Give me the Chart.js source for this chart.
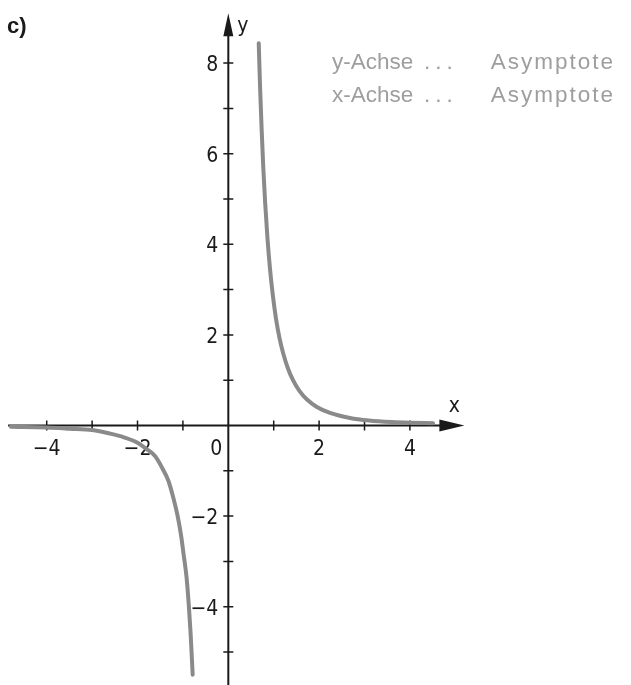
<!DOCTYPE html>
<html>
<head>
<meta charset="utf-8">
<script src="https://cdn.jsdelivr.net/npm/chart.js@4/dist/chart.umd.min.js"></script>
<style>
  html, body { margin: 0; padding: 0; background: #fff; }
  #wrap { width: 631px; height: 685px; }
</style>
</head>
<body>
<div id="wrap"><canvas id="plot" width="631" height="685"></canvas></div>
<script>
// branch for x > 0
const rightX = [0.67, 0.70, 0.735, 0.77, 0.81, 0.86, 0.918, 0.98, 1.05, 1.13, 1.21, 1.31, 1.425, 1.57, 1.727, 1.95, 2.24, 2.68, 3.1, 3.6, 4.0, 4.51];
const rightY = [8.44, 7.46, 6.52, 5.7, 4.94, 4.17, 3.46, 2.88, 2.36, 1.92, 1.59, 1.27, 1.0, 0.76, 0.58, 0.41, 0.28, 0.167, 0.11, 0.075, 0.06, 0.05];
// branch for x < 0
const leftX = [-4.79, -4.0, -3.5, -3.0, -2.6, -2.3, -2.0, -1.8, -1.61, -1.45, -1.32, -1.21, -1.12, -1.04, -0.98, -0.92, -0.87, -0.83, -0.785];
const leftY = [-0.03, -0.045, -0.07, -0.1, -0.18, -0.26, -0.38, -0.52, -0.68, -0.95, -1.22, -1.6, -1.98, -2.43, -2.88, -3.35, -3.97, -4.6, -5.5];

const xTickMarks = [-4, -3, -2, -1, 1, 2, 3, 4];
const xTickLabels = [-4, -2, 2, 4];
const yTickMarks = [-5, -4, -3, -2, -1, 1, 2, 3, 4, 5, 6, 7, 8];
const yTickLabels = [-4, -2, 2, 4, 6, 8];
const noteAxes = ['y-Achse', 'x-Achse'];

const toPts = (xs, ys) => xs.map((x, i) => ({ x: x, y: ys[i] }));
const fmt = v => (v < 0 ? '\u2212' + Math.abs(v) : String(v));
const numFont = '21px "DejaVu Sans Condensed", "Liberation Sans Narrow", "DejaVu Sans", sans-serif';

// cross-shaped axes through the origin with arrow heads
const axesPlugin = {
    id: 'axes',
    beforeDatasetsDraw(chart) {
        const ctx = chart.ctx, sx = chart.scales.x, sy = chart.scales.y;
        const x0 = sx.getPixelForValue(0), y0 = sy.getPixelForValue(0);
        const xl = sx.getPixelForValue(-4.85), xr = sx.getPixelForValue(5.2);
        const yt = sy.getPixelForValue(9.1), yb = sy.getPixelForValue(-5.75);
        ctx.save();
        ctx.strokeStyle = '#1a1a1a';
        ctx.fillStyle = '#1a1a1a';
        ctx.lineWidth = 2;
        ctx.beginPath();
        ctx.moveTo(xl, y0); ctx.lineTo(xr - 10, y0);
        ctx.moveTo(x0, yb); ctx.lineTo(x0, yt + 10);
        ctx.stroke();
        // arrow heads
        ctx.beginPath();
        ctx.moveTo(xr, y0); ctx.lineTo(xr - 25, y0 - 6); ctx.lineTo(xr - 25, y0 + 6); ctx.closePath();
        ctx.moveTo(x0, yt); ctx.lineTo(x0 - 5, yt + 23); ctx.lineTo(x0 + 5, yt + 23); ctx.closePath();
        ctx.fill();
        // tick marks
        ctx.lineWidth = 1.5;
        ctx.beginPath();
        xTickMarks.forEach(v => { const p = sx.getPixelForValue(v); ctx.moveTo(p, y0 - 5); ctx.lineTo(p, y0 + 5); });
        yTickMarks.forEach(v => { const p = sy.getPixelForValue(v); ctx.moveTo(x0 - 5, p); ctx.lineTo(x0 + 5, p); });
        ctx.stroke();
        // tick labels
        ctx.font = numFont;
        ctx.textBaseline = 'alphabetic';
        ctx.textAlign = 'center';
        xTickLabels.forEach(v => ctx.fillText(fmt(v), sx.getPixelForValue(v), y0 + 29));
        ctx.textAlign = 'right';
        ctx.fillText('0', x0 - 6, y0 + 29);
        yTickLabels.forEach(v => ctx.fillText(fmt(v), x0 - 10, sy.getPixelForValue(v) + 8));
        // axis names
        ctx.textAlign = 'center';
        ctx.fillText('x', xr - 10, y0 - 14);
        ctx.textAlign = 'left';
        ctx.fillText('y', x0 + 9, yt + 19);
        // panel letter
        ctx.font = 'bold 22px "Liberation Sans", Arial, sans-serif';
        ctx.fillText('c)', 7, 33);
        // notes on the asymptotes
        ctx.font = '22.5px "Liberation Sans", Arial, sans-serif';
        ctx.fillStyle = '#9e9e9e';
        noteAxes.forEach((t, i) => {
            const by = 69 + i * 33;
            ctx.textAlign = 'left';
            ctx.fillText(t, 332, by);
            ctx.letterSpacing = '5px';
            ctx.fillText('...', 424, by);
            ctx.letterSpacing = '2px';
            ctx.textAlign = 'right';
            ctx.fillText('Asymptote', 615, by);
            ctx.letterSpacing = '0px';
        });
        ctx.restore();
    }
};

new Chart(document.getElementById('plot'), {
    type: 'scatter',
    data: {
        datasets: [
            { data: toPts(rightX, rightY) },
            { data: toPts(leftX, leftY) }
        ]
    },
    options: {
        responsive: false,
        animation: false,
        devicePixelRatio: 1,
        layout: { padding: 0 },
        showLine: true,
        elements: {
            point: { radius: 0 },
            line: { borderColor: '#8a8a8a', borderWidth: 4, cubicInterpolationMode: 'monotone', borderCapStyle: 'round', fill: false }
        },
        plugins: { legend: { display: false }, tooltip: { enabled: false } },
        scales: {
            x: { type: 'linear', display: false, min: -5.029, max: 8.87 },
            y: { type: 'linear', display: false, min: -5.728, max: 9.393 }
        }
    },
    plugins: [axesPlugin]
});
</script>
</body>
</html>
